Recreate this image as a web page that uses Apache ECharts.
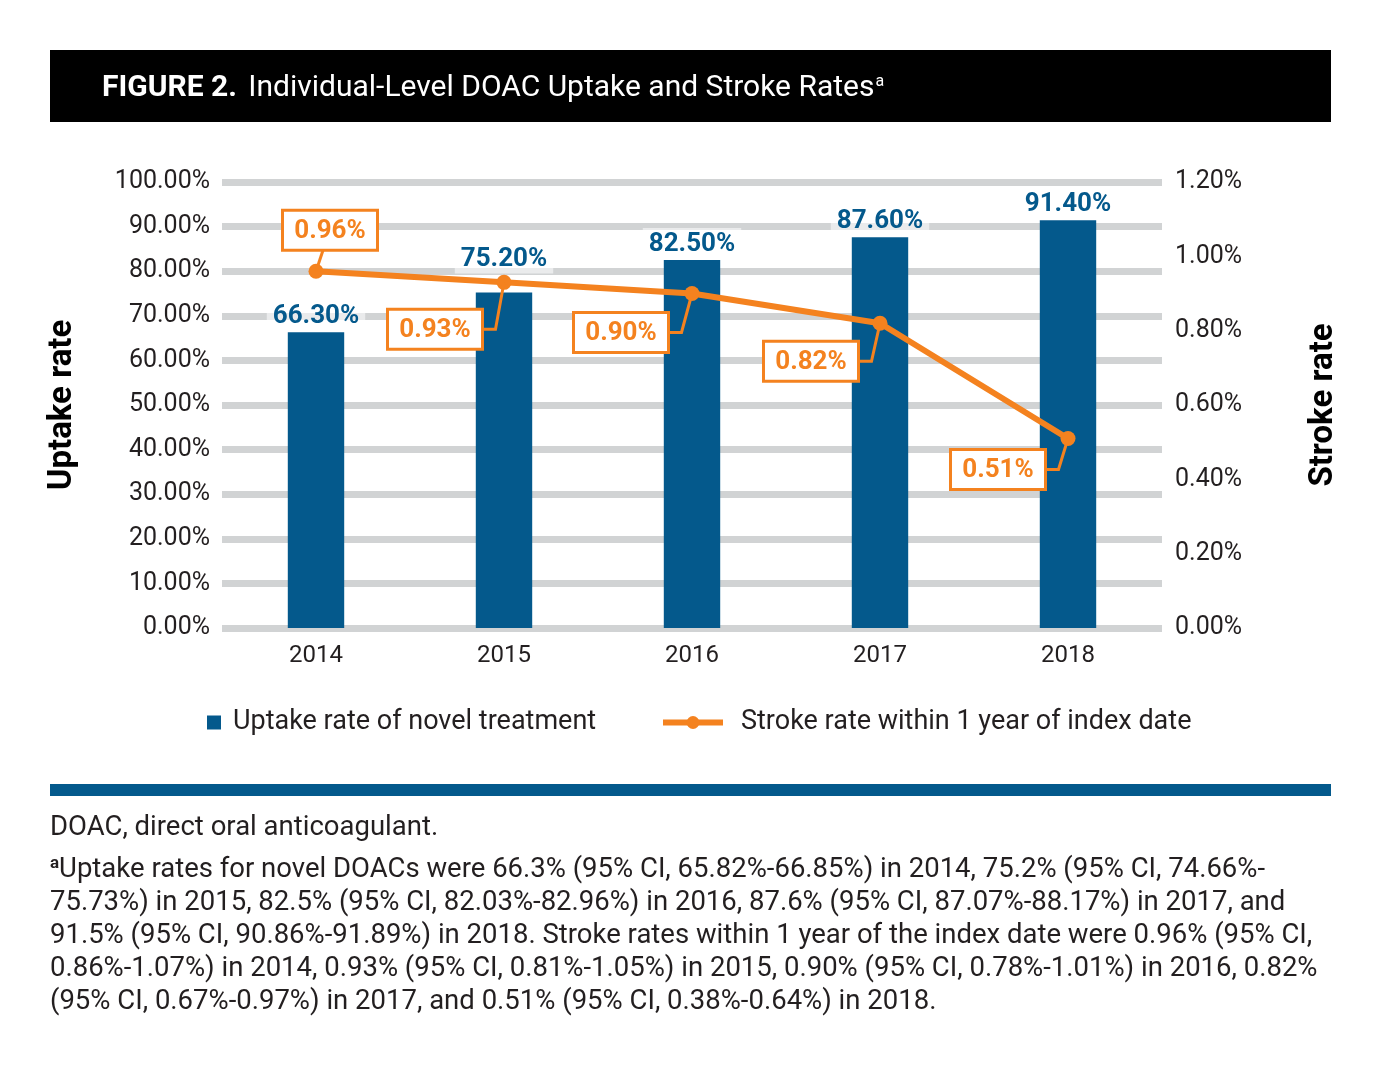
<!DOCTYPE html>
<html>
<head>
<meta charset="utf-8">
<script src="https://cdn.jsdelivr.net/npm/echarts@6/dist/echarts.min.js"></script>
<style>
html,body{margin:0;padding:0;background:#fff;}
#c{width:1381px;height:1078px;}
</style>
</head>
<body>
<div id="c"></div>
<script>
// ---- data ----
const categories = ['2014', '2015', '2016', '2017', '2018'];
const uptakeRate = [66.3, 75.2, 82.5, 87.6, 91.4];
const strokeRate = [0.96, 0.93, 0.90, 0.82, 0.51];
const uptakeName = 'Uptake rate of novel treatment';
const strokeName = 'Stroke rate within 1 year of index date';
const titleBold = 'FIGURE 2.';
const titleText = 'Individual-Level DOAC Uptake and Stroke Rates';
const abbrevNote = 'DOAC, direct oral anticoagulant.';
const footLines = [
  'Uptake rates for novel DOACs were 66.3% (95% CI, 65.82%-66.85%) in 2014, 75.2% (95% CI, 74.66%-',
  '75.73%) in 2015, 82.5% (95% CI, 82.03%-82.96%) in 2016, 87.6% (95% CI, 87.07%-88.17%) in 2017, and',
  '91.5% (95% CI, 90.86%-91.89%) in 2018. Stroke rates within 1 year of the index date were 0.96% (95% CI,',
  '0.86%-1.07%) in 2014, 0.93% (95% CI, 0.81%-1.05%) in 2015, 0.90% (95% CI, 0.78%-1.01%) in 2016, 0.82%',
  '(95% CI, 0.67%-0.97%) in 2017, and 0.51% (95% CI, 0.38%-0.64%) in 2018.'
];

// ---- styles ----
const BLUE = '#04598c';
const ORANGE = '#f4821f';
const GRID = '#d1d3d4';
const TXT = '#231f20';
const FONT = 'Roboto, "DejaVu Sans", sans-serif';
// label box offsets (center relative to point) for stroke labels
const labelOffsets = [[14, -41], [-69, 47], [-71, 39], [-69, 38], [-70, 31]];
// extra vertical shift of bar labels (px)
const barLabelShift = [0, -17, 0, 0, 0];
const BOX_W = 95, BOX_H = 40;

const chart = echarts.init(document.getElementById('c'));

const graphics = [
  { type: 'rect', shape: { x: 50, y: 50, width: 1281, height: 72 }, style: { fill: '#000' }, silent: true },
  {
    type: 'text',
    style: {
      x: 102, y: 88, verticalAlign: 'middle',
      text: '{b|' + titleBold + '} {r|' + titleText + '}{s|a}',
      rich: {
        b: { fontFamily: FONT, fontSize: 30, fontWeight: 'bold', fill: '#fff', padding: [0, 8, 0, 0] },
        r: { fontFamily: FONT, fontSize: 30, fill: '#fff' },
        s: { fontFamily: FONT, fontSize: 16, fill: '#fff', padding: [0, 0, 13, 1] }
      }
    }
  },
  { type: 'rect', shape: { x: 50, y: 784, width: 1281, height: 12 }, style: { fill: BLUE }, silent: true },
  {
    type: 'text',
    style: { x: 50, y: 828, verticalAlign: 'middle', text: abbrevNote, fontFamily: FONT, fontSize: 27.5, fill: TXT }
  }
];
footLines.forEach(function (line, i) {
  graphics.push({
    type: 'text',
    style: i === 0 ? {
      x: 50, y: 870, verticalAlign: 'middle',
      text: '{s|a}{t|' + line + '}',
      rich: {
        s: { fontFamily: FONT, fontSize: 17, fontWeight: 'bold', fill: TXT, padding: [0, 0, 12, 0] },
        t: { fontFamily: FONT, fontSize: 27.5, fill: TXT }
      }
    } : { x: 50, y: 870 + i * 33.1, verticalAlign: 'middle', text: line, fontFamily: FONT, fontSize: 27.5, fill: TXT }
  });
});

const option = {
  backgroundColor: '#fff',
  animation: false,
  textStyle: { fontFamily: FONT },
  graphic: graphics,
  grid: { left: 222, right: 219, top: 182, bottom: 450, containLabel: false },
  legend: [
    {
      data: [uptakeName], left: 207, top: 709, padding: 0, itemWidth: 14, itemHeight: 14,
      icon: 'rect',
      textStyle: { fontSize: 27, color: TXT, fontFamily: FONT, padding: [0, 0, 0, 7] },
      selectedMode: false
    },
    {
      data: [strokeName], left: 660, top: 709, padding: 0, itemWidth: 60, itemHeight: 16,
      lineStyle: { width: 6 },
      textStyle: { fontSize: 27, color: TXT, fontFamily: FONT, padding: [0, 0, 0, 13] },
      selectedMode: false
    }
  ],
  xAxis: {
    type: 'category', data: categories,
    axisLine: { show: false }, axisTick: { show: false },
    axisLabel: { fontSize: 24, color: TXT, margin: 16, fontFamily: FONT }
  },
  yAxis: [
    {
      type: 'value', min: 0, max: 100, interval: 10,
      name: 'Uptake rate', nameLocation: 'middle', nameRotate: 90, nameGap: 143,
      nameTextStyle: { fontSize: 33, fontWeight: 'bold', color: '#000', fontFamily: FONT },
      axisLabel: { fontSize: 25, color: TXT, margin: 12, formatter: function (v) { return v.toFixed(2) + '%'; } },
      axisLine: { show: false }, axisTick: { show: false },
      splitLine: { show: true, lineStyle: { color: GRID, width: 7 } }
    },
    {
      type: 'value', min: 0, max: 1.2, interval: 0.2, position: 'right',
      name: 'Stroke rate', nameLocation: 'middle', nameRotate: 90, nameGap: 145,
      nameTextStyle: { fontSize: 33, fontWeight: 'bold', color: '#000', fontFamily: FONT },
      axisLabel: { fontSize: 25, color: TXT, margin: 13, formatter: function (v) { return v.toFixed(2) + '%'; } },
      axisLine: { show: false }, axisTick: { show: false },
      splitLine: { show: false }
    }
  ],
  series: [
    {
      name: uptakeName, type: 'bar', barWidth: '30%',
      data: uptakeRate.map(function (v, i) {
        return { value: v, label: { offset: [0, barLabelShift[i]] } };
      }),
      itemStyle: { color: BLUE }, z: 2,
      label: {
        show: true, position: 'top', distance: 2,
        formatter: function (p) { return p.value.toFixed(2) + '%'; },
        fontSize: 26, fontWeight: 'bold', color: BLUE, fontFamily: FONT,
        backgroundColor: 'rgba(255,255,255,0.55)', padding: [3, 6, 1, 6]
      }
    },
    {
      name: strokeName, type: 'line', yAxisIndex: 1, data: strokeRate,
      symbol: 'circle', symbolSize: 15,
      lineStyle: { color: ORANGE, width: 6 }, itemStyle: { color: ORANGE }, z: 3
    },
    {
      type: 'custom', yAxisIndex: 1, z: 5, silent: true,
      data: strokeRate.map(function (v, i) { return [i, v]; }),
      encode: { x: 0, y: 1 },
      renderItem: function (params, api) {
        const i = params.dataIndex;
        const pt = api.coord([api.value(0), api.value(1)]);
        const off = labelOffsets[i];
        const cx = pt[0] + off[0], cy = pt[1] + off[1];
        let pts;
        if (off[1] < 0) {
          pts = [[pt[0], pt[1]], [pt[0] + 7, cy + BOX_H / 2]];
        } else {
          const edge = cx + BOX_W / 2;
          pts = [[pt[0], pt[1]], [edge + 13, cy], [edge, cy]];
        }
        return {
          type: 'group',
          children: [
            { type: 'polyline', shape: { points: pts }, style: { stroke: ORANGE, lineWidth: 3, fill: null } },
            { type: 'rect', shape: { x: cx - BOX_W / 2, y: cy - BOX_H / 2, width: BOX_W, height: BOX_H },
              style: { fill: '#fff', stroke: ORANGE, lineWidth: 3 } },
            { type: 'text', style: { text: strokeRate[i].toFixed(2) + '%', x: cx, y: cy + 1,
              textAlign: 'center', textVerticalAlign: 'middle', fontFamily: FONT,
              fontSize: 26, fontWeight: 'bold', fill: ORANGE } }
          ]
        };
      }
    }
  ]
};
chart.setOption(option);
</script>
</body>
</html>
